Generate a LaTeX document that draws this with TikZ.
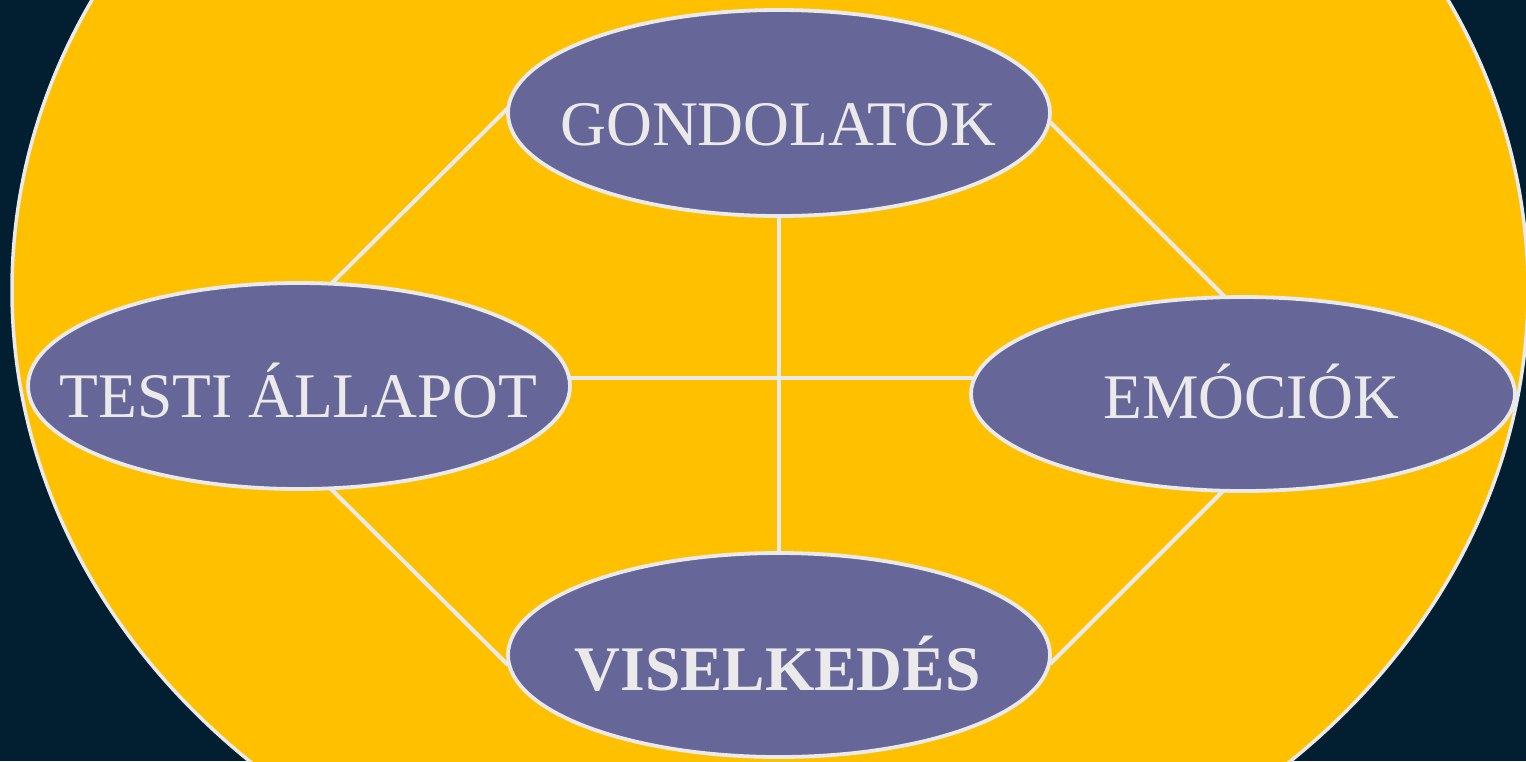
\documentclass[tikz,border=0pt]{standalone}
\usepackage{fontspec}
\setmainfont{Liberation Serif}
\usetikzlibrary{shapes.geometric,calc}
\definecolor{bgnavy}{RGB}{1,31,48}
\definecolor{sunyellow}{RGB}{255,192,0}
\definecolor{ovalfill}{RGB}{102,102,153}
\definecolor{lightline}{RGB}{234,234,234}
\pgfdeclarelayer{bottom}
\pgfdeclarelayer{links}
\pgfsetlayers{bottom,links,main}
\tikzset{
  oval/.style={ellipse, draw=lightline, line width=3.8pt, fill=ovalfill,
    inner sep=0pt, minimum width=542pt, minimum height=206pt},
  lbl/.style={anchor=base, inner sep=0pt, text=lightline,
    font=\fontsize{63.5}{70}\selectfont},
  link/.style={draw=lightline, line width=4pt}
}
\begin{document}
\begin{tikzpicture}[x=1pt,y=-1pt]
\useasboundingbox (0,0) rectangle (1526,761);
\clip (0,0) rectangle (1526,761);

% ovals
\node[oval] (g) at (779,113) {};
\node[oval] (t) at (299,386) {};
\node[oval, minimum height=194pt, minimum width=544pt] (e) at (1243,394) {};
\node[oval, minimum height=204pt] (v) at (779,655) {};

\begin{pgfonlayer}{bottom}
\fill[bgnavy] (0,0) rectangle (1526,761);
\draw[draw=lightline, line width=3.5pt, fill=sunyellow] (770,290) ellipse [x radius=758pt, y radius=648pt];
\end{pgfonlayer}

% connectors
\begin{pgfonlayer}{links}
\draw[link] ($(g.center)+(-270,-6)$) -- ($(t.center)+(31,-101)$);
\draw[link] ($(g.center)+(271,9)$) -- ($(e.center)+(-16,-95)$);
\draw[link] ($(t.center)+(31,102)$) -- ($(v.center)+(-271,10)$);
\draw[link] ($(e.center)+(-18,95)$) -- ($(v.center)+(271,9)$);
\draw[link] (g.center) -- (v.center);
\draw[link] ($(t.center)+(270,-8)$) -- ($(e.center)+(-270,-16)$);
\end{pgfonlayer}

% labels
\node[lbl] (gl) at (778.5,145) {GONDOLATOK};
\node[lbl] (tl) at (298.5,417) {TESTI ÁLLAPOT};
\node[lbl] (el) at (1251.5,418) {EMÓCIÓK};
\node[lbl, font=\fontsize{63.5}{70}\selectfont\bfseries] (vl) at (777.5,690) {VISELKEDÉS};
\end{tikzpicture}
\end{document}
